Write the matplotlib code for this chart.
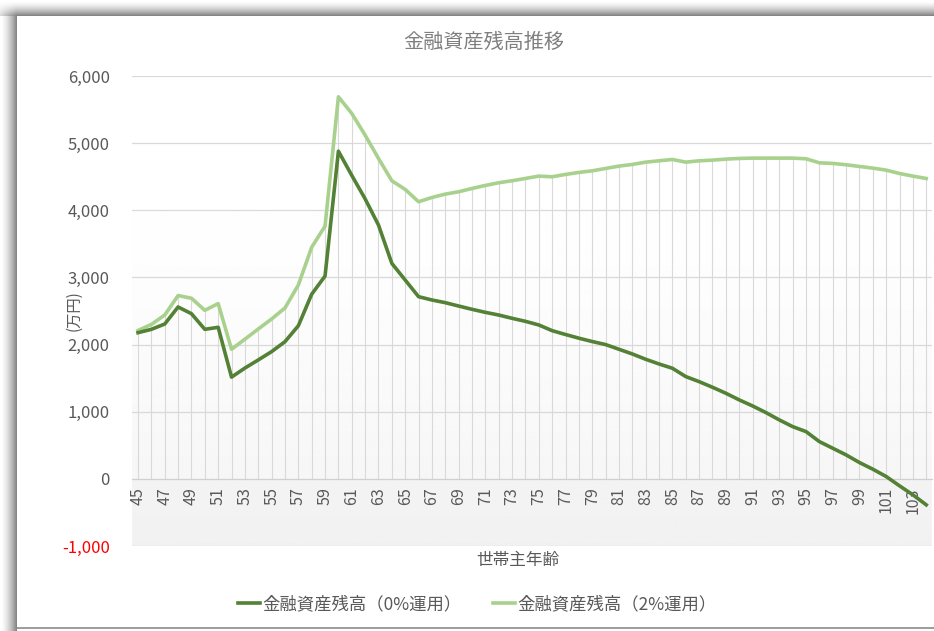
import numpy as np
import matplotlib
matplotlib.use("Agg")
import matplotlib.pyplot as plt
from matplotlib.ticker import FuncFormatter

plt.rcParams['font.family'] = ['Noto Sans CJK JP', 'DejaVu Sans']

# 世帯主年齢ごとの金融資産残高（万円）
ages = list(range(45, 105))
balance_0pct = [2177, 2227, 2306, 2560, 2460, 2227, 2257, 1515, 1650, 1771,
                1895, 2043, 2280, 2750, 3021, 4880, 4520, 4170, 3780, 3209,
                2961, 2713, 2664, 2624, 2574, 2525, 2480, 2440, 2391, 2346,
                2292, 2207, 2150, 2095, 2045, 2000, 1930, 1860, 1781, 1711,
                1647, 1523, 1448, 1364, 1275, 1176, 1086, 987, 878, 778,
                704, 555, 456, 357, 243, 144, 35, -104, -238, -387]
balance_2pct = [2210, 2300, 2440, 2730, 2690, 2510, 2610, 1930, 2080, 2232,
                2381, 2545, 2887, 3450, 3765, 5690, 5442, 5119, 4772, 4439,
                4311, 4127, 4191, 4241, 4276, 4325, 4370, 4410, 4440, 4474,
                4509, 4499, 4534, 4564, 4588, 4623, 4658, 4683, 4717, 4737,
                4757, 4717, 4737, 4747, 4762, 4772, 4777, 4777, 4777, 4777,
                4767, 4707, 4698, 4678, 4653, 4628, 4598, 4548, 4509, 4474]
series_labels = ['金融資産残高（0%運用）', '金融資産残高（2%運用）']
yticks = [-1000, 0, 1000, 2000, 3000, 4000, 5000, 6000]

W, H = 934, 631
fig = plt.figure(figsize=(W / 100, H / 100), dpi=100)

# frame with drop shadow on the left and top edges
bg = np.ones((H, W))
for i in range(17):
    t = (i / 16) ** 1.6
    bg[16:, i] = 1 - 0.48 * t
for j in range(16):
    t = (j / 15) ** 1.6
    bg[j, 17:] = np.minimum(bg[j, 17:], 1 - 0.48 * t)
    bg[j, :17] = np.minimum(bg[j, :17], 1 - 0.48 * t * np.linspace(0.3, 1, 17))
bg[627:629, 17:] = 0.62
fig.figimage(bg, cmap='gray', vmin=0, vmax=1, origin='upper', zorder=-10)

ax = fig.add_axes([132 / W, 1 - 546 / H, (932 - 132) / W, (546 - 76) / H])
ax.patch.set_visible(False)
xlim = (44.55, 104.43)
ylim = (-1000, 6000)
ax.set_xlim(*xlim)
ax.set_ylim(*ylim)

# soft vertical gradient in the plot area
yy = np.linspace(ylim[1], ylim[0], 300)
shade = np.where(yy >= 0, 1 - 0.035 * (1 - yy / 6000) ** 2, 0.945 + 0.01 * (yy + 1000) / 1000)
ax.imshow(shade[:, None], extent=[*xlim, *ylim], aspect='auto', cmap='gray',
          vmin=0, vmax=1, zorder=0)

for y in yticks:
    if y != 0:
        ax.axhline(y, color='#d9d9d9', lw=0.9, zorder=1)

# drop lines from the upper series down to the axis
tops = np.maximum(balance_0pct, balance_2pct)
ax.vlines(ages, 0, tops, color='#d9d9d9', lw=0.8, zorder=1)

ax.plot(ages, balance_0pct, color='#538135', lw=2.6, zorder=4,
        solid_joinstyle='round', label=series_labels[0])
ax.plot(ages, balance_2pct, color='#a9d18e', lw=2.6, zorder=3,
        solid_joinstyle='round', label=series_labels[1])

for s in ['top', 'right', 'left']:
    ax.spines[s].set_visible(False)
ax.spines['bottom'].set_position(('data', 0))
ax.spines['bottom'].set_color('#d0d0d0')
ax.spines['bottom'].set_linewidth(0.9)

ax.set_yticks(yticks)
ax.yaxis.set_major_formatter(FuncFormatter(lambda v, p: f'{int(v):,}'))
ax.tick_params(axis='y', length=0, pad=16, labelsize=12, labelcolor='#595959')
ax.get_yticklabels()[0].set_color('#ff0000')

ax.set_xticks(ages[::2])
ax.set_xticklabels([str(a) for a in ages[::2]], rotation=90)
ax.tick_params(axis='x', length=0, pad=6, labelsize=11.5, labelcolor='#595959')

fig.text(484 / W, 1 - 42 / H, '金融資産残高推移', ha='center', va='center',
         fontsize=14.5, color='#7f7f7f')
fig.text(518 / W, 1 - 561 / H, '世帯主年齢', ha='center', va='center',
         fontsize=12, color='#595959')
fig.text(74 / W, 1 - 311 / H, '(万円)', ha='center', va='center',
         fontsize=11, color='#595959', rotation=90)

fig.legend(loc='center', bbox_to_anchor=(477 / W, 1 - 604 / H), ncol=2,
           frameon=False, fontsize=12.5, labelcolor='#595959',
           handlelength=1.3, handletextpad=0.1, columnspacing=1.8)

fig.savefig('out.png', dpi=100)
